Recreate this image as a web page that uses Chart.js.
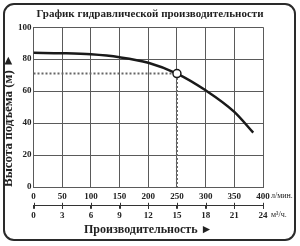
<!DOCTYPE html>
<html>
<head>
<meta charset="utf-8">
<script src="https://cdn.jsdelivr.net/npm/chart.js@4/dist/chart.umd.min.js"></script>
<style>
  html, body { margin: 0; padding: 0; background: #fff; }
  #wrap { position: relative; width: 300px; height: 246px; }
  #frame { position: absolute; left: 3px; top: 3px; width: 289px; height: 234px; border: 2px solid #2a2a2a; border-radius: 11px; pointer-events: none; }
  canvas { position: absolute; left: 0; top: 0; }
</style>
</head>
<body>
<div id="wrap">
  <canvas id="c" width="300" height="246"></canvas>
  <div id="frame"></div>
</div>
<script>
// ---- data ----
const chartTitle = "График гидравлической производительности";
const yTitle = "Высота подъёма (м) ►";
const xTitle = "Производительность ►";
const unitLpm = "л/мин.";
const unitM3h = "м³/ч.";
const flowLpm = [0, 50, 100, 150, 200, 250, 300, 350, 383];
const headM = [84, 83.7, 83, 81.2, 77.8, 71, 60.5, 47, 34];
const dutyFlow = 250;
const dutyHead = 71;
const xMaxLpm = 400;
const xMaxM3h = 24;
const yMax = 100;

const serif = "'Liberation Serif', 'Times New Roman', serif";
const ink = '#222';
const gridCol = '#5a5a5a';

const unitsPlugin = {
  id: 'units',
  afterDraw(chart) {
    const ctx = chart.ctx;
    const sx = chart.scales.x, sx2 = chart.scales.x2;
    ctx.save();
    ctx.fillStyle = ink;
    ctx.font = "8px " + serif;
    ctx.textAlign = 'left';
    ctx.textBaseline = 'middle';
    ctx.fillText(unitLpm, sx.right + 8, sx.top + 9);
    ctx.fillText(unitM3h, sx2.right + 8, sx2.top + 9);
    // cross ticks on secondary axis line
    ctx.strokeStyle = '#333';
    ctx.lineWidth = 1;
    sx2.ticks.forEach(t => {
      const px = Math.round(sx2.getPixelForValue(t.value)) + 0.5;
      ctx.beginPath();
      ctx.moveTo(px, sx2.top - 3);
      ctx.lineTo(px, sx2.top + 3);
      ctx.stroke();
    });
    ctx.restore();
  }
};

new Chart(document.getElementById('c'), {
  type: 'line',
  data: {
    datasets: [
      {
        label: 'dotted',
        data: [{x: 0, y: dutyHead}, {x: dutyFlow, y: dutyHead}, {x: dutyFlow, y: 0}],
        borderColor: '#666',
        borderWidth: 2,
        borderDash: [2, 2],
        pointRadius: 0,
        tension: 0,
        order: 3
      },
      {
        label: 'curve',
        data: flowLpm.map((f, i) => ({x: f, y: headM[i]})),
        borderColor: '#1a1a1a',
        borderWidth: 2.5,
        pointRadius: 0,
        cubicInterpolationMode: 'monotone',
        order: 2
      },
      {
        label: 'duty',
        data: [{x: dutyFlow, y: dutyHead}],
        borderColor: '#1a1a1a',
        backgroundColor: '#fff',
        borderWidth: 1.5,
        pointRadius: 4,
        showLine: false,
        order: 1
      }
    ]
  },
  options: {
    responsive: false,
    animation: false,
    layout: { padding: { left: 0, right: 0, top: 0, bottom: 9 } },
    plugins: {
      legend: { display: false },
      tooltip: { enabled: false },
      title: {
        display: true,
        text: chartTitle,
        color: ink,
        font: { family: serif, size: 11, weight: 'bold' },
        padding: { top: 8, bottom: 6 }
      }
    },
    scales: {
      x: {
        type: 'linear',
        position: 'bottom',
        min: 0, max: xMaxLpm,
        ticks: { stepSize: 50, color: ink, font: { family: serif, size: 9, weight: 'bold' }, padding: 4, maxRotation: 0, autoSkip: false },
        grid: { color: gridCol, lineWidth: 1, drawTicks: false },
        border: { display: true, color: gridCol, width: 1 }
      },
      x2: {
        type: 'linear',
        position: 'bottom',
        min: 0, max: xMaxM3h,
        ticks: { stepSize: 3, color: ink, font: { family: serif, size: 9, weight: 'bold' }, padding: 1, maxRotation: 0, autoSkip: false },
        grid: { drawOnChartArea: false, drawTicks: true, tickLength: 3, color: '#333' },
        border: { display: true, color: '#333', width: 1 },
        title: { display: true, text: xTitle, color: ink, font: { family: serif, size: 12, weight: 'bold' }, padding: { top: 1, bottom: 0 } }
      },
      y: {
        min: 0, max: yMax,
        ticks: { stepSize: 20, color: ink, font: { family: serif, size: 9, weight: 'bold' }, padding: 2, autoSkip: false },
        grid: { color: gridCol, lineWidth: 1, drawTicks: false },
        border: { display: true, color: gridCol, width: 1 },
        title: { display: true, text: yTitle, align: 'start', color: ink, font: { family: serif, size: 13, weight: 'bold', lineHeight: 1 }, padding: { top: 2, bottom: 1 } }
      },
      yRight: {
        position: 'right',
        min: 0, max: yMax,
        ticks: { display: false },
        grid: { drawOnChartArea: false, drawTicks: false },
        border: { display: false },
        afterFit(axis) { axis.width = 37; }
      }
    }
  },
  plugins: [unitsPlugin]
});
</script>
</body>
</html>
